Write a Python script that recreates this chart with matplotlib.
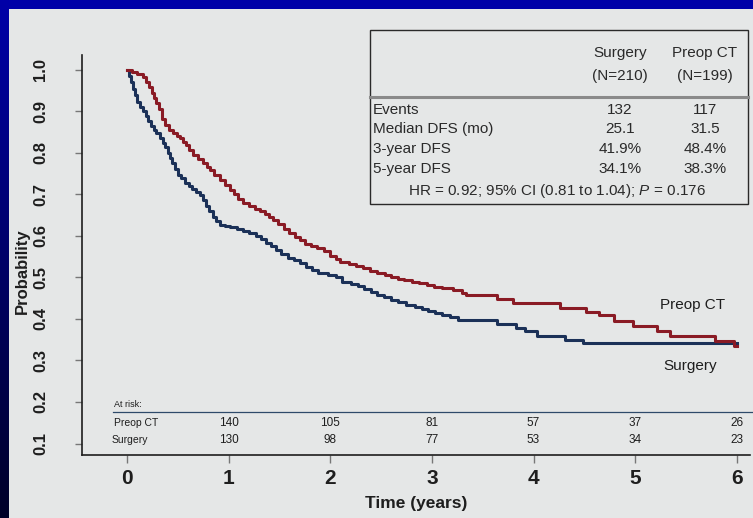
import matplotlib
matplotlib.use("Agg")
import matplotlib.pyplot as plt
from matplotlib import font_manager
import numpy as np

# ---- data -------------------------------------------------------------
years = [0, 1, 2, 3, 4, 5, 6]
prob_ticks = [0.1, 0.2, 0.3, 0.4, 0.5, 0.6, 0.7, 0.8, 0.9, 1.0]

# Kaplan-Meier step points (time in years, disease-free survival)
surgery_t = [0.00, 0.02, 0.04, 0.06, 0.08, 0.10, 0.13, 0.16, 0.19, 0.21,
             0.24, 0.27, 0.29, 0.32, 0.35, 0.37, 0.40, 0.42, 0.44, 0.47,
             0.50, 0.53, 0.57, 0.61, 0.64, 0.68, 0.72, 0.75, 0.78, 0.81,
             0.85, 0.88, 0.91, 0.96, 1.01, 1.08, 1.14, 1.20, 1.27, 1.32,
             1.37, 1.42, 1.47, 1.52, 1.58, 1.64, 1.70, 1.76, 1.82, 1.88,
             1.98, 2.06, 2.12, 2.20, 2.27, 2.33, 2.40, 2.46, 2.53, 2.60,
             2.67, 2.75, 2.83, 2.90, 2.96, 3.03, 3.10, 3.18, 3.26, 3.64,
             3.83, 3.92, 4.03, 4.31, 4.49, 6.00]
surgery_p = [1.000, 0.985, 0.970, 0.955, 0.940, 0.922, 0.910, 0.900, 0.888, 0.876,
             0.866, 0.855, 0.848, 0.836, 0.824, 0.814, 0.800, 0.788, 0.775, 0.762,
             0.748, 0.740, 0.728, 0.720, 0.712, 0.705, 0.699, 0.686, 0.672, 0.660,
             0.645, 0.636, 0.627, 0.624, 0.621, 0.617, 0.613, 0.608, 0.601, 0.592,
             0.584, 0.576, 0.566, 0.556, 0.548, 0.541, 0.534, 0.526, 0.518, 0.510,
             0.505, 0.501, 0.490, 0.484, 0.479, 0.473, 0.466, 0.458, 0.452, 0.446,
             0.440, 0.434, 0.428, 0.423, 0.419, 0.414, 0.409, 0.404, 0.398, 0.388,
             0.378, 0.370, 0.358, 0.349, 0.341, 0.341]

preop_t = [0.00, 0.05, 0.10, 0.16, 0.19, 0.22, 0.25, 0.27, 0.29, 0.31,
           0.34, 0.37, 0.41, 0.45, 0.49, 0.52, 0.55, 0.58, 0.61, 0.65,
           0.70, 0.75, 0.79, 0.82, 0.86, 0.91, 0.96, 1.01, 1.05, 1.09,
           1.14, 1.20, 1.26, 1.31, 1.36, 1.40, 1.44, 1.49, 1.54, 1.59,
           1.65, 1.70, 1.75, 1.81, 1.87, 1.94, 2.00, 2.06, 2.10, 2.18,
           2.25, 2.32, 2.39, 2.46, 2.54, 2.60, 2.67, 2.73, 2.80, 2.87,
           2.95, 3.02, 3.10, 3.21, 3.30, 3.34, 3.64, 3.80, 4.26, 4.52,
           4.64, 4.79, 4.98, 5.21, 5.34, 5.79, 5.97, 6.00]
preop_p = [1.000, 0.995, 0.990, 0.984, 0.972, 0.958, 0.944, 0.932, 0.920, 0.905,
           0.882, 0.868, 0.856, 0.848, 0.842, 0.835, 0.827, 0.818, 0.808, 0.796,
           0.785, 0.775, 0.766, 0.759, 0.748, 0.736, 0.724, 0.711, 0.700, 0.688,
           0.679, 0.672, 0.666, 0.660, 0.652, 0.645, 0.638, 0.628, 0.616, 0.606,
           0.598, 0.590, 0.581, 0.575, 0.570, 0.564, 0.552, 0.544, 0.537, 0.532,
           0.527, 0.522, 0.516, 0.511, 0.506, 0.501, 0.497, 0.493, 0.489, 0.486,
           0.483, 0.478, 0.474, 0.469, 0.462, 0.457, 0.447, 0.438, 0.427, 0.418,
           0.410, 0.394, 0.382, 0.370, 0.359, 0.347, 0.335, 0.335]

risk_times = [1, 2, 3, 4, 5, 6]
risk_preop = [140, 105, 81, 57, 37, 26]
risk_surgery = [130, 98, 77, 53, 34, 23]

group_names = ["Surgery", "Preop CT"]
group_sizes = ["(N=210)", "(N=199)"]
stat_labels = ["Events", "Median DFS (mo)", "3-year DFS", "5-year DFS"]
surgery_stats = ["132", "25.1", "41.9%", "34.1%"]
preop_stats = ["117", "31.5", "48.4%", "38.3%"]
hr_line = r"HR = 0.92; 95% CI (0.81 to 1.04); $\mathit{P}$ = 0.176"

# ---- styling ----------------------------------------------------------
available = {f.name for f in font_manager.fontManager.ttflist}
SANS = "Liberation Sans" if "Liberation Sans" in available else "DejaVu Sans"
NARROW = "Liberation Sans Narrow" if "Liberation Sans Narrow" in available else SANS
plt.rcParams["font.family"] = [SANS, "DejaVu Sans"]
plt.rcParams["mathtext.fontset"] = "custom"
plt.rcParams["mathtext.rm"] = SANS
plt.rcParams["mathtext.it"] = SANS + ":italic"

PANEL = "#e5e7e7"
RED = "#8a1b25"
BLUE = "#1b3158"
INK = "#1e1e1e"
TABLE_INK = "#2a2a2a"

W, H = 753, 518
fig = plt.figure(figsize=(W / 100, H / 100), dpi=100, facecolor=PANEL)


def fx(px):
    return px / W


def fy(py):
    return 1 - py / H


# blue slide frame: top band and left gradient band
top = fig.add_axes([0, fy(9), 1, 9 / H])
top.set_axis_off()
top.add_patch(plt.Rectangle((0, 0), 1, 1, color="#0000a8"))
left = fig.add_axes([0, 0, 9 / W, 1])
left.set_axis_off()
grad = np.linspace(0, 1, 256)[:, None]
cols = np.stack([0.0 * grad, 0.0 * grad, (168 - 128 * grad) / 255], axis=-1)
left.imshow(cols, aspect="auto", extent=[0, 1, 0, 1], origin="upper")

# ---- main axes --------------------------------------------------------
ax = fig.add_axes([fx(82), fy(455), fx(750) - fx(82), fy(55) - fy(455)])
ax.patch.set_alpha(0)
ax.set_xlim(-0.443, 6.13)
ax.set_ylim(0.0723, 1.036)
for s in ("top", "right"):
    ax.spines[s].set_visible(False)
for s in ("left", "bottom"):
    ax.spines[s].set_color(INK)
    ax.spines[s].set_linewidth(1.2)

ax.step(surgery_t, surgery_p, where="post", color=BLUE, lw=2.2, zorder=3)
ax.step(preop_t, preop_p, where="post", color=RED, lw=2.2, zorder=4)

ax.set_xticks(years)
ax.set_xticklabels([str(y) for y in years], fontsize=15, fontweight="bold", color=INK)
ax.tick_params(axis="x", length=6, width=1.0, color="#777777", pad=4)
ax.set_yticks(prob_ticks)
ax.set_yticklabels([f"{v:.1f}" for v in prob_ticks], rotation=90, va="center",
                   fontsize=12, fontweight="bold", color=INK)
ax.tick_params(axis="y", length=5, width=1.0, color="#777777", pad=19.5)
ax.set_xlabel("Time (years)", fontsize=12.5, fontweight="bold", color=INK, labelpad=6)
ax.set_ylabel("Probability", fontsize=12, fontweight="bold", color=INK)
ax.yaxis.set_label_coords(-0.0775, 0.46)

# curve labels
ax.text(5.56, 0.434, group_names[1], fontsize=11, color=INK, ha="center", va="center")
ax.text(5.54, 0.287, group_names[0], fontsize=11, color=INK, ha="center", va="center")

# ---- numbers at risk ---------------------------------------------------
ax.text(-0.13, 0.195, "At risk:", fontsize=6.5, family=NARROW, color=INK, va="center")
ax.plot([-0.14, 6.2], [0.176, 0.176], color="#2e4a6a", lw=0.9, clip_on=False)
ax.text(-0.13, 0.149, "Preop CT", fontsize=7.5, family=NARROW, color=INK, va="center")
ax.text(-0.15, 0.108, "Surgery", fontsize=7.5, family=NARROW, color=INK, va="center")
for t, n_p, n_s in zip(risk_times, risk_preop, risk_surgery):
    ax.text(t, 0.149, str(n_p), fontsize=8.5, family=NARROW, color=INK, ha="center", va="center")
    ax.text(t, 0.108, str(n_s), fontsize=8.5, family=NARROW, color=INK, ha="center", va="center")

# ---- summary table ----------------------------------------------------
box = plt.Rectangle((fx(370), fy(204)), fx(748) - fx(370), fy(30) - fy(204),
                    transform=fig.transFigure, facecolor="none", edgecolor="#2a2a2a", lw=1.0)
fig.patches.append(box)
fig.add_artist(plt.Line2D([fx(370), fx(748)], [fy(96.5), fy(96.5)],
                          transform=fig.transFigure, color="#8a8a8a", lw=2.2))
TFS = 11
col_x = [620, 705]
for cx, name, size in zip(col_x, group_names, group_sizes):
    fig.text(fx(cx), fy(53), name, fontsize=TFS, ha="center", va="center", color=TABLE_INK)
    fig.text(fx(cx), fy(76), size, fontsize=TFS, ha="center", va="center", color=TABLE_INK)
row_y = [110, 129, 149, 169]
for ry, lab, s1, s2 in zip(row_y, stat_labels, surgery_stats, preop_stats):
    fig.text(fx(373), fy(ry), lab, fontsize=TFS, ha="left", va="center", color=TABLE_INK)
    fig.text(fx(col_x[0]), fy(ry), s1, fontsize=TFS, ha="center", va="center", color=TABLE_INK)
    fig.text(fx(col_x[1]), fy(ry), s2, fontsize=TFS, ha="center", va="center", color=TABLE_INK)
fig.text(fx(557), fy(191), hr_line, fontsize=TFS, ha="center", va="center", color=TABLE_INK)

fig.savefig("out.png", dpi=100, facecolor=PANEL)
